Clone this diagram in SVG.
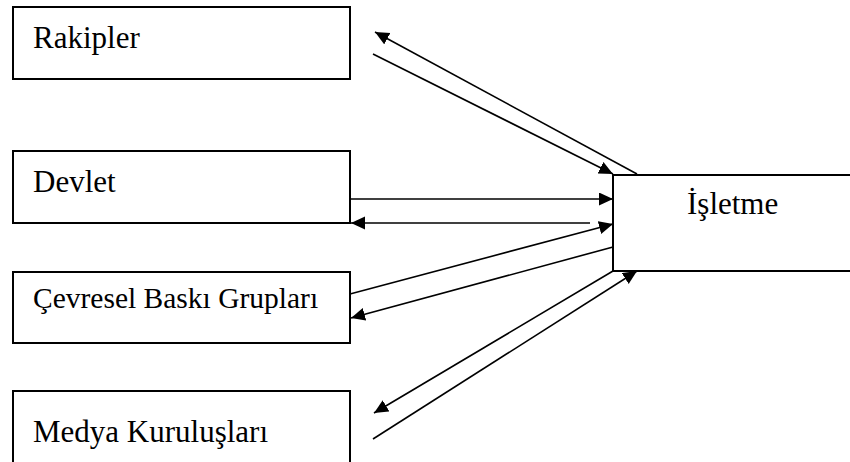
<svg xmlns="http://www.w3.org/2000/svg" width="850" height="462" viewBox="0 0 850 462">
  <style>
    .box { fill: #fff; stroke: #000; stroke-width: 2; }
    .label { font-family: "Liberation Serif", "Times New Roman", serif; font-size: 31px; fill: #000; }
    .conn { fill: none; stroke: #000; stroke-width: 1.6; }
  </style>
  <defs>
    <marker id="arrow" markerUnits="userSpaceOnUse" markerWidth="15" markerHeight="14" refX="14" refY="6.5" orient="auto">
      <path d="M0,0 L14,6.5 L0,13 Z" fill="#000"/>
    </marker>
  </defs>
  <rect width="850" height="462" fill="#fff"/>

  <g id="rakipler">
    <rect class="box" x="13" y="7" width="337" height="72"/>
    <text class="label" x="33" y="48">Rakipler</text>
  </g>
  <g id="devlet">
    <rect class="box" x="13" y="151" width="337" height="72"/>
    <text class="label" x="33" y="192">Devlet</text>
  </g>
  <g id="cevresel">
    <rect class="box" x="13" y="272" width="337" height="71"/>
    <text class="label" x="33" y="308" style="font-size:29.5px">Çevresel Baskı Grupları</text>
  </g>
  <g id="medya">
    <rect class="box" x="13" y="391" width="337" height="80"/>
    <text class="label" x="33" y="442">Medya Kuruluşları</text>
  </g>
  <g id="isletme">
    <rect class="box" x="613" y="175" width="250" height="96"/>
    <text class="label" x="687" y="214">İşletme</text>
  </g>

  <g id="connectors">
    <line class="conn" x1="637" y1="174" x2="375" y2="32" marker-end="url(#arrow)"/>
    <line class="conn" x1="373" y1="54" x2="613" y2="174" marker-end="url(#arrow)"/>
    <line class="conn" x1="350" y1="199" x2="613" y2="199" marker-end="url(#arrow)"/>
    <line class="conn" x1="590" y1="223" x2="351" y2="223" marker-end="url(#arrow)"/>
    <line class="conn" x1="350" y1="294" x2="613" y2="224" marker-end="url(#arrow)"/>
    <line class="conn" x1="613" y1="247" x2="351" y2="318" marker-end="url(#arrow)"/>
    <line class="conn" x1="613" y1="271" x2="374" y2="413" marker-end="url(#arrow)"/>
    <line class="conn" x1="373" y1="439" x2="637" y2="271" marker-end="url(#arrow)"/>
  </g>
</svg>
